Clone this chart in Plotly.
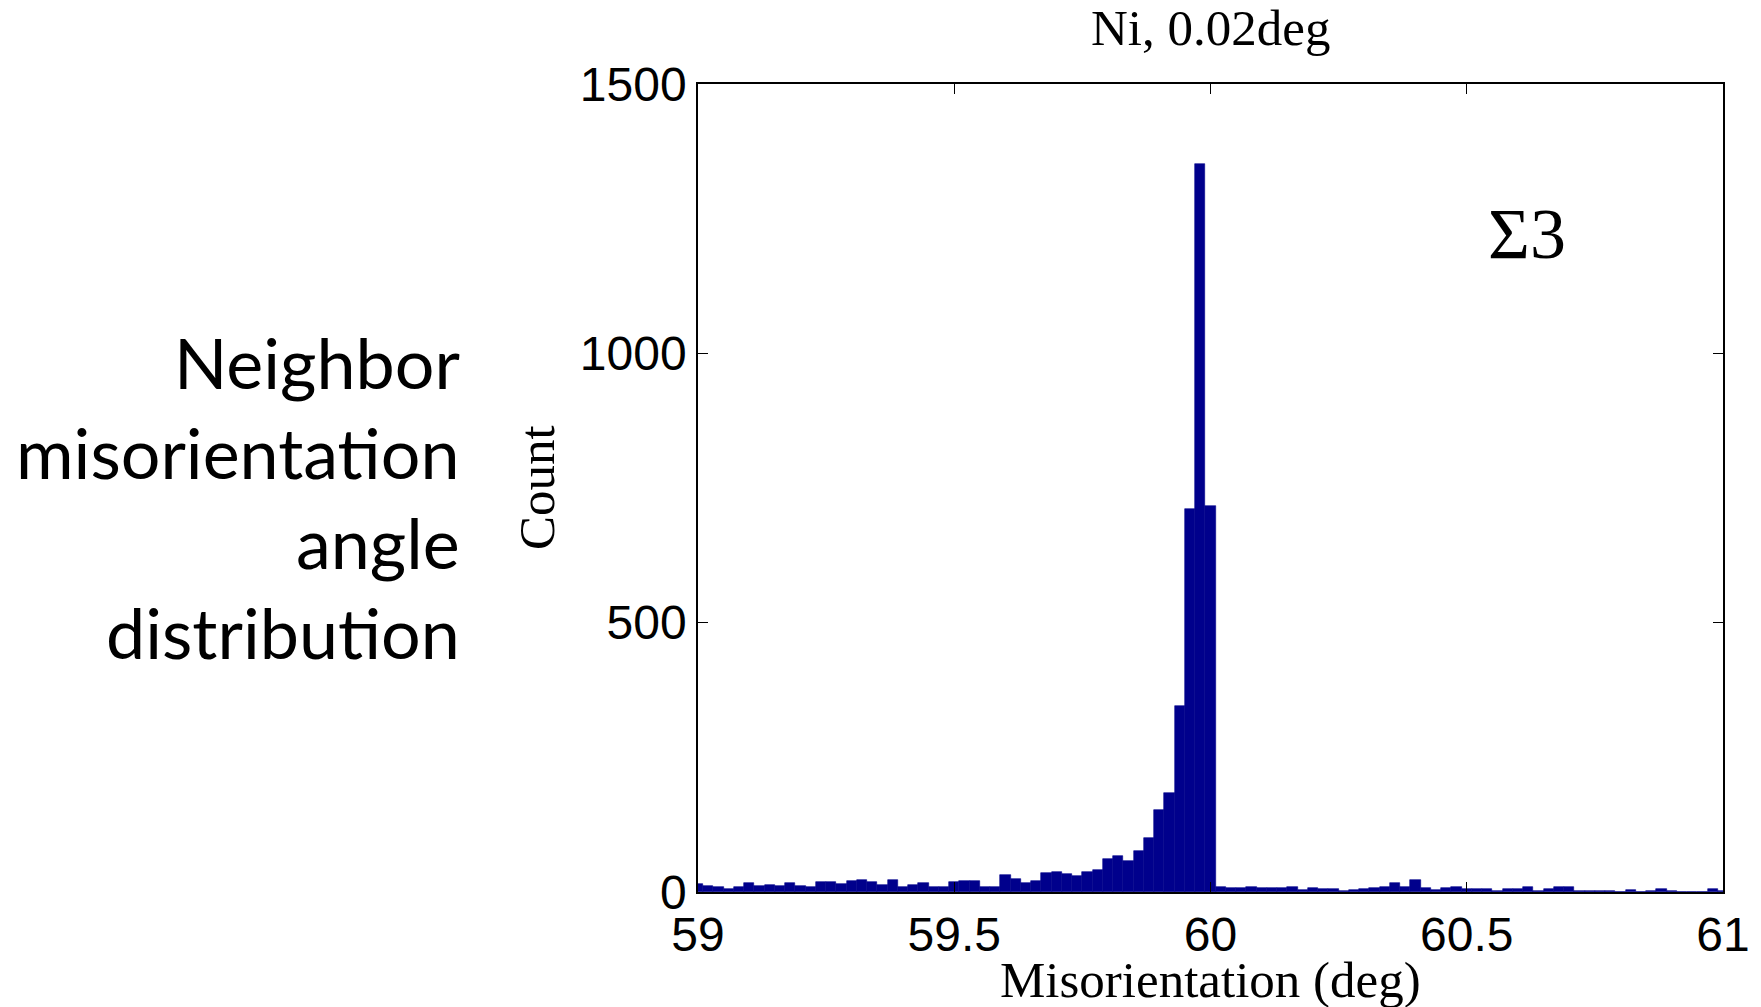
import plotly.graph_objects as go

# Histogram bin centres (deg) and counts
bin_start = 59.0
bin_width = 0.02
counts = [
    15, 12, 10, 5, 10, 17, 12, 13, 11, 17,      # 59.00 - 59.18
    12, 9, 19, 19, 15, 20, 23, 19, 13, 23,      # 59.20 - 59.38
    10, 13, 17, 10, 9, 19, 20, 20, 10, 10,      # 59.40 - 59.58
    31, 24, 17, 20, 35, 38, 33, 29, 38, 40,     # 59.60 - 59.78
    62, 66, 57, 77, 100, 153, 183, 346, 711, 1352,  # 59.80 - 59.98
    716, 10, 7, 7, 9, 7, 7, 7, 9, 4,            # 60.00 - 60.18
    7, 5, 5, 2, 4, 5, 7, 10, 16, 10,            # 60.20 - 60.38
    22, 7, 4, 7, 9, 5, 5, 5, 2, 6,              # 60.40 - 60.58
    6, 9, 1, 6, 9, 9, 2, 2, 2, 2,               # 60.60 - 60.78
    0, 3, 0, 2, 5, 2, 0, 0, 0, 5,               # 60.80 - 60.98
    1,                                          # 61.00
]
centers = [round(bin_start + i * bin_width, 2) for i in range(len(counts))]

x_ticks = [59, 59.5, 60, 60.5, 61]
x_tick_labels = ["59", "59.5", "60", "60.5", "61"]
y_ticks = [0, 500, 1000, 1500]
y_tick_labels = ["0", "500", "1000", "1500"]

side_lines = ["Neighbor", "misorientation", "angle", "distribution"]

BAR = "#00008C"
SERIF = "Liberation Serif, Times New Roman, serif"
SANS = "Liberation Sans, Arial, sans-serif"

fig = go.Figure()
fig.add_trace(go.Bar(
    x=centers, y=counts, width=bin_width,
    marker=dict(color=BAR, line=dict(width=0.6, color=BAR)),
    showlegend=False,
))

W, H = 1761, 1007
L, R, T, B = 698, 38, 84, 115

fig.update_layout(
    width=W, height=H,
    margin=dict(l=L, r=R, t=T, b=B, pad=0),
    paper_bgcolor="white", plot_bgcolor="white",
    bargap=0,
    showlegend=False,
)
fig.update_xaxes(
    range=[59, 61], tickvals=x_ticks, ticktext=x_tick_labels,
    ticks="inside", ticklen=10, tickwidth=1.2, tickcolor="black",
    showline=True, linecolor="black", linewidth=1.5, mirror="ticks",
    showgrid=False, zeroline=False,
    tickfont=dict(family=SANS, size=48, color="black"),
)
fig.update_yaxes(
    range=[0, 1500], tickvals=y_ticks, ticktext=y_tick_labels,
    ticks="inside", ticklen=10, tickwidth=1.2, tickcolor="black",
    showline=True, linecolor="black", linewidth=1.5, mirror="ticks",
    showgrid=False, zeroline=False,
    tickfont=dict(family=SANS, size=48, color="black"),
)

# chart title
fig.add_annotation(text="Ni, 0.02deg", xref="paper", yref="paper",
                   x=0.5, y=1, xanchor="center", yanchor="middle", yshift=56,
                   showarrow=False,
                   font=dict(family=SERIF, size=51, color="black"))
# axis titles
fig.add_annotation(text="Misorientation (deg)", xref="paper", yref="paper",
                   x=0.5, y=0, xanchor="center", yanchor="middle", yshift=-88,
                   showarrow=False,
                   font=dict(family=SERIF, size=51, color="black"))
fig.add_annotation(text="Count", xref="paper", yref="paper",
                   x=0, y=0.5, xanchor="center", yanchor="middle", xshift=-161,
                   textangle=-90, showarrow=False,
                   font=dict(family=SERIF, size=51, color="black"))
# Sigma 3 label
fig.add_annotation(text="Σ3", xref="paper", yref="paper",
                   x=0.809, y=0.814, xanchor="center", yanchor="middle",
                   showarrow=False,
                   font=dict(family=SERIF, size=72, color="black"))

# side description text
for i, line in enumerate(side_lines):
    fig.add_annotation(text=line, xref="paper", yref="paper",
                       x=0, xanchor="right", xshift=-236,
                       y=1, yanchor="middle", yshift=-(362 - T) - 90 * i,
                       showarrow=False,
                       font=dict(family="Lato, Open Sans, sans-serif", size=70, color="black"))

fig.write_html("out.html")
